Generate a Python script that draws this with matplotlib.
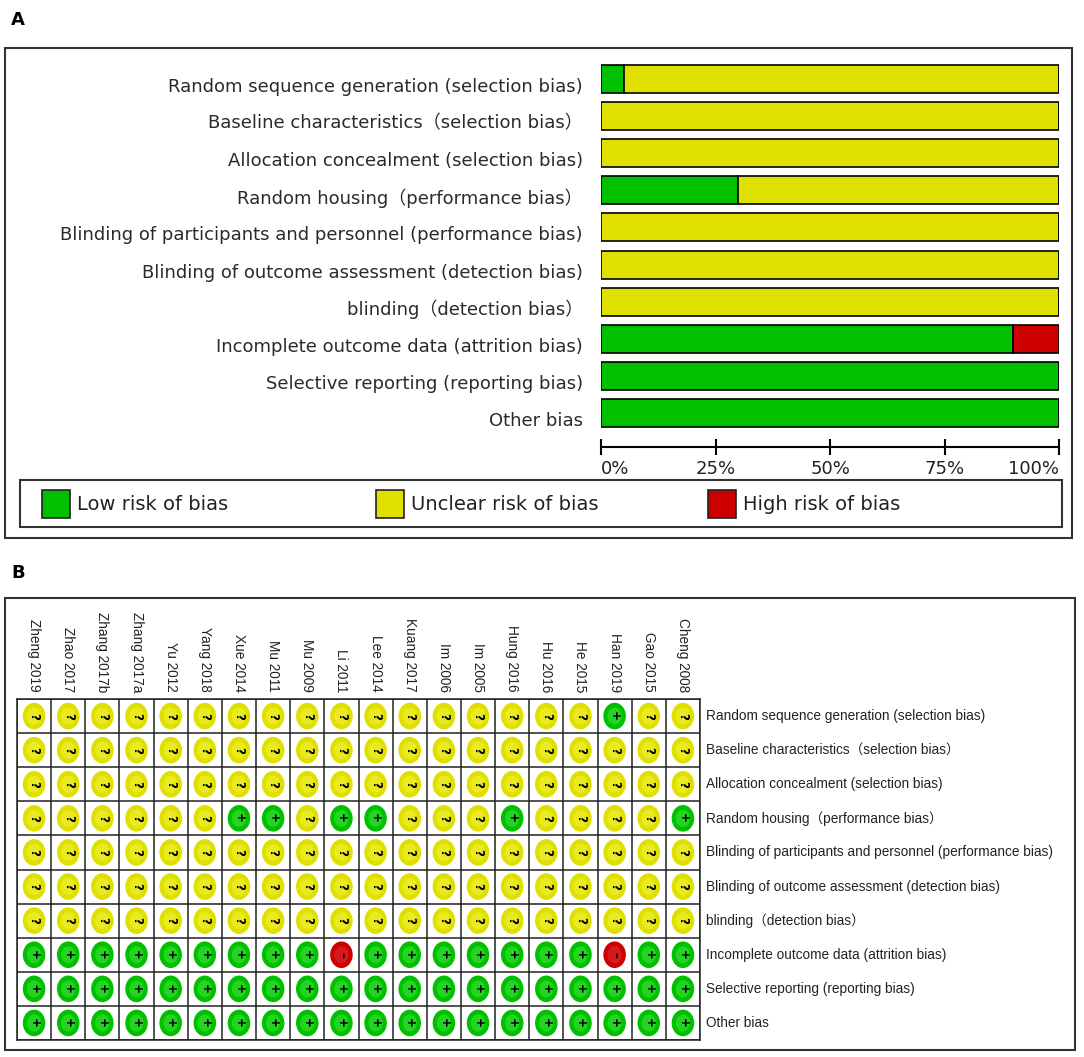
import matplotlib
matplotlib.use("Agg")
import matplotlib.pyplot as plt
import matplotlib.transforms as mtransforms
from matplotlib.patches import Rectangle, Ellipse

# ---------------- data ----------------
domains = [
    "Random sequence generation (selection bias)",
    "Baseline characteristics（selection bias）",
    "Allocation concealment (selection bias)",
    "Random housing（performance bias）",
    "Blinding of participants and personnel (performance bias)",
    "Blinding of outcome assessment (detection bias)",
    "blinding（detection bias）",
    "Incomplete outcome data (attrition bias)",
    "Selective reporting (reporting bias)",
    "Other bias",
]
low_pct = [5, 0, 0, 30, 0, 0, 0, 90, 100, 100]
unclear_pct = [95, 100, 100, 70, 100, 100, 100, 0, 0, 0]
high_pct = [0, 0, 0, 0, 0, 0, 0, 10, 0, 0]
tick_values = [0, 25, 50, 75, 100]
tick_labels = ["0%", "25%", "50%", "75%", "100%"]
legend_labels = ["Low risk of bias", "Unclear risk of bias", "High risk of bias"]

studies = ["Zheng 2019", "Zhao 2017", "Zhang 2017b", "Zhang 2017a", "Yu 2012",
           "Yang 2018", "Xue 2014", "Mu 2011", "Mu 2009", "Li 2011", "Lee 2014",
           "Kuang 2017", "Im 2006", "Im 2005", "Hung 2016", "Hu 2016", "He 2015",
           "Han 2019", "Gao 2015", "Cheng 2008"]
# one string per domain, one character per study: + low, ? unclear, - high
judgments = [
    "?????????????????+??",
    "????????????????????",
    "????????????????????",
    "??????++?++???+????+",
    "????????????????????",
    "????????????????????",
    "????????????????????",
    "+++++++++-+++++++-++",
    "++++++++++++++++++++",
    "++++++++++++++++++++",
]

# ---------------- style ----------------
GREEN = "#00c000"
YELLOW = "#e0e000"
RED = "#cc0000"
colors = {"+": GREEN, "?": YELLOW, "-": RED}
inner = {"+": "#3ee03e", "?": "#f2f23a", "-": "#e02a2a"}

W, H = 1084, 1057
fig = plt.figure(figsize=(W / 100, H / 100), dpi=100)
fig.patch.set_facecolor("white")


def fx(x):
    return x / W


def fy(y):
    return 1 - y / H


def frect(x0, y0, x1, y1, **kw):
    r = Rectangle((fx(x0), fy(y1)), fx(x1) - fx(x0), fy(y0) - fy(y1),
                  transform=fig.transFigure, fill=False, **kw)
    fig.add_artist(r)


def axes_px(x0, y0, x1, y1):
    return fig.add_axes([fx(x0), fy(y1), fx(x1) - fx(x0), fy(y0) - fy(y1)])


# ---------------- panel A ----------------
fig.text(fx(11), fy(20), "A", fontsize=13, fontweight="bold", va="center", ha="left")
frect(5, 48, 1072, 538, edgecolor="#333333", linewidth=1.5)

row_sp = 37.2
y_first = 78.5
axA = axes_px(601, y_first - row_sp / 2, 1059, y_first + 9 * row_sp + row_sp / 2)
ypos = list(range(len(domains)))
h = 28 / row_sp
axA.barh(ypos, low_pct, height=h, color=GREEN, edgecolor="black", linewidth=1.2)
axA.barh(ypos, unclear_pct, left=low_pct, height=h, color=YELLOW,
         edgecolor="black", linewidth=1.2)
left_high = [a + b for a, b in zip(low_pct, unclear_pct)]
axA.barh(ypos, high_pct, left=left_high, height=h, color=RED,
         edgecolor="black", linewidth=1.2)
axA.set_xlim(0, 100)
axA.set_ylim(len(domains) - 0.5, -0.5)
axA.set_yticks(ypos)
axA.set_yticklabels(domains, fontsize=13,
                    family=["DejaVu Sans", "Noto Sans CJK SC"], color="#2a2a2a")
axA.tick_params(axis="y", length=0, pad=13)
shift = mtransforms.ScaledTranslation(0, -0.06, fig.dpi_scale_trans)
for lbl in axA.get_yticklabels():
    lbl.set_transform(lbl.get_transform() + shift)
for s in ["top", "right", "left"]:
    axA.spines[s].set_visible(False)
axA.spines["bottom"].set_position(("outward", 11))
axA.spines["bottom"].set_linewidth(1.5)
axA.set_xticks(tick_values)
axA.set_xticklabels(tick_labels, fontsize=13, color="#222222")
axA.tick_params(axis="x", direction="inout", length=12, width=1.5, pad=3)
for lbl, v in zip(axA.get_xticklabels(), tick_values):
    if v == 0:
        lbl.set_ha("left")
    elif v == 100:
        lbl.set_ha("right")
axA.set_facecolor("none")

# legend box
frect(20, 480, 1062, 527, edgecolor="#333333", linewidth=1.5)
leg_x = [42, 376, 708]
for x, lab, c in zip(leg_x, legend_labels, [GREEN, YELLOW, RED]):
    r = Rectangle((fx(x), fy(518)), fx(28), 28 / H, transform=fig.transFigure,
                  facecolor=c, edgecolor="#222222", linewidth=1.2)
    fig.add_artist(r)
    fig.text(fx(x + 35), fy(504), lab, fontsize=14, va="center", ha="left",
             color="#222222")

# ---------------- panel B ----------------
fig.text(fx(11), fy(573), "B", fontsize=13, fontweight="bold", va="center", ha="left")
frect(5, 598, 1075, 1050, edgecolor="#333333", linewidth=1.5)

ncol = len(studies)
nrow = len(domains)
axB = axes_px(17, 699, 700, 1040)
axB.set_xlim(0, ncol)
axB.set_ylim(nrow, 0)
axB.set_xticks(range(ncol + 1))
axB.set_yticks(range(nrow + 1))
axB.grid(True, color="#222222", linewidth=1.1)
axB.tick_params(length=0, labelbottom=False, labelleft=False)
for s in axB.spines.values():
    s.set_color("#222222")
    s.set_linewidth(1.1)
axB.set_axisbelow(True)

for j, row in enumerate(judgments):
    for i, mark in enumerate(row):
        axB.add_patch(Ellipse((i + 0.5, j + 0.5), 0.66, 0.78,
                              facecolor=colors[mark], edgecolor="none", zorder=3))
        axB.add_patch(Ellipse((i + 0.5, j + 0.5), 0.42, 0.5,
                              facecolor=inner[mark], edgecolor="none", zorder=3,
                              alpha=0.6))
        sym = {"+": "+", "?": "?", "-": "–"}[mark]
        axB.text(i + 0.5, j + 0.5, sym, rotation=-90, ha="center", va="center",
                 fontsize=8.5, fontweight="bold", color="black", zorder=4)

tr = axB.get_xaxis_transform()
ybot = 1 + (699 - 692) / (1040 - 699)
for i, st in enumerate(studies):
    axB.text(i + 0.5, ybot, st, rotation=-90, ha="center", va="bottom",
             fontsize=9.8, family="Liberation Sans", color="#222222",
             transform=tr, clip_on=False)

for j, d in enumerate(domains):
    axB.text(ncol + 0.18, j + 0.5, d, ha="left", va="center", fontsize=9.8,
             family=["Liberation Sans", "Noto Sans CJK SC"], color="#222222",
             clip_on=False)

fig.savefig("out.png", dpi=100, facecolor="white")
